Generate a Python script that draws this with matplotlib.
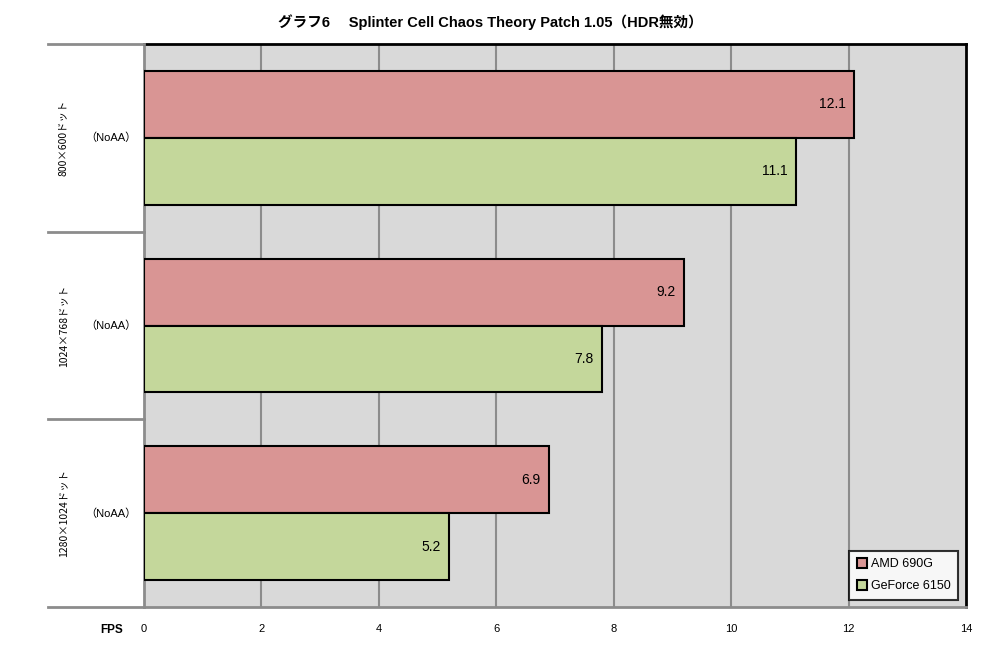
import matplotlib
matplotlib.use("Agg")
import matplotlib.pyplot as plt
from matplotlib.lines import Line2D
import numpy as np

plt.rcParams['font.family'] = ['Liberation Sans', 'Noto Sans CJK JP', 'DejaVu Sans']

title = "グラフ6\u3000 Splinter Cell Chaos Theory Patch 1.05（HDR無効）"
resolutions = ["800×600ドット", "1024×768ドット", "1280×1024ドット"]
aa_labels = ["（NoAA）", "（NoAA）", "（NoAA）"]
series_names = ["AMD 690G", "GeForce 6150"]
amd_fps = [12.1, 9.2, 6.9]
geforce_fps = [11.1, 7.8, 5.2]
xticks = [0, 2, 4, 6, 8, 10, 12, 14]

colors = ["#d99594", "#c4d79b"]
grid_col = "#8c8c8c"

W, H = 987, 648
fig = plt.figure(figsize=(W / 100, H / 100), dpi=100)
x0, x1, y0, y1 = 144, 966, 44, 607
ax = fig.add_axes([x0 / W, 1 - y1 / H, (x1 - x0) / W, (y1 - y0) / H])
ax.set_facecolor("#d9d9d9")

y = np.arange(len(resolutions))
h = 0.356
bars1 = ax.barh(y - h / 2, amd_fps, height=h, color=colors[0],
                edgecolor="black", linewidth=1.5, zorder=3)
bars2 = ax.barh(y + h / 2, geforce_fps, height=h, color=colors[1],
                edgecolor="black", linewidth=1.5, zorder=3)

for bars, vals in ((bars1, amd_fps), (bars2, geforce_fps)):
    for b, v in zip(bars, vals):
        ax.annotate(f"{v}", (v, b.get_y() + b.get_height() / 2),
                    xytext=(-6, 0), textcoords="offset points",
                    ha="right", va="center", fontsize=10, zorder=4)

ax.set_xlim(0, 14)
ax.set_ylim(len(resolutions) - 0.5, -0.5)
ax.set_xticks(xticks)
ax.set_xticklabels([str(t) for t in xticks], fontsize=8)
ax.tick_params(axis="x", length=0, pad=12)
ax.set_yticks([])
for t in xticks[1:-1]:
    ax.axvline(t, color=grid_col, linewidth=1.5, zorder=1)

for s in ("top", "right"):
    ax.spines[s].set_color("black")
    ax.spines[s].set_linewidth(2)
for s in ("left", "bottom"):
    ax.spines[s].set_color(grid_col)
    ax.spines[s].set_linewidth(2)

# category boundary lines extending left of the plot
lx = 48 / W
for k in range(len(resolutions) + 1):
    yy = 1 - (y0 + k * (y1 - y0) / len(resolutions)) / H
    fig.add_artist(Line2D([lx, x0 / W], [yy, yy], color=grid_col,
                          linewidth=2, transform=fig.transFigure))

for i, (r, a) in enumerate(zip(resolutions, aa_labels)):
    yy = 1 - (y0 + (i + 0.5) * (y1 - y0) / len(resolutions)) / H
    fig.text(63 / W, yy, r, rotation=90, ha="center", va="center",
             fontsize=7.5, family=["Noto Sans CJK JP", "DejaVu Sans"])
    fig.text(111 / W, yy, a, ha="center", va="center", fontsize=8)

fig.text(112 / W, 1 - 630 / H, "FPS", ha="center", va="center",
         fontsize=8.5, fontweight="bold")
fig.text(490 / W, 1 - 22 / H, title, ha="center", va="center",
         fontsize=10.5, fontweight="bold")

leg = ax.legend([bars1, bars2], series_names, loc="lower right",
                bbox_to_anchor=(0.990, 0.0125), borderaxespad=0,
                fontsize=9, frameon=True,
                fancybox=False, handlelength=0.8, handleheight=0.8,
                handletextpad=0.3, borderpad=0.6, labelspacing=0.8)
leg.get_frame().set_edgecolor("black")
leg.get_frame().set_linewidth(1.5)
leg.get_frame().set_facecolor("white")
leg.set_zorder(5)

fig.savefig("out.png", dpi=100)
